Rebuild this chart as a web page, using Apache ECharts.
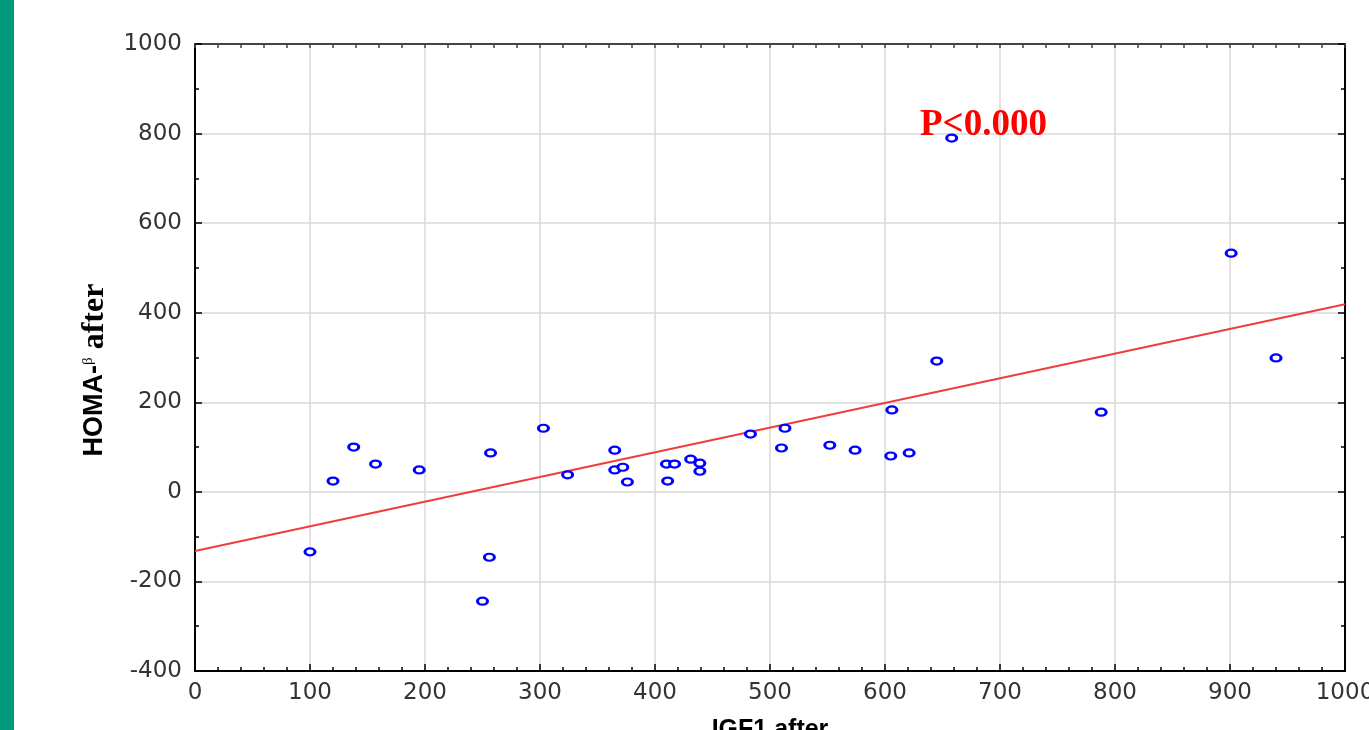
<!DOCTYPE html>
<html>
<head>
<meta charset="utf-8">
<script src="https://cdn.jsdelivr.net/npm/echarts@6/dist/echarts.min.js"></script>
<style>
html,body{margin:0;padding:0;background:#fff;}
#chart{width:1369px;height:730px;}
</style>
</head>
<body>
<div id="chart"></div>
<script>
// IGF1 after (x) vs HOMA-β after (y)
const igf1After = [100,120,138,157,195,250,256,257,303,324,365,365,372,376,411,410,417,431,439,439,483,510,513,552,574,605,606,621,645,658,788,901,940];
const homaAfter = [-134,24,100,62,49,-244,-146,87,142,38,93,49,55,22,24,62,62,73,64,46,129,98,142,104,93,80,183,87,292,790,178,533,299];
// regression line end points
const fitX = [0,1000];
const fitY = [-132,419];
const xTicks = {min:0,max:1000,interval:100};
const yTicks = {min:-400,max:1000,interval:200};
const annotation = 'P<0.000';

const points = igf1After.map((x,i)=>[x,homaAfter[i]]);
const fitLine = fitX.map((x,i)=>[x,fitY[i]]);

const chart = echarts.init(document.getElementById('chart'));
const labelFont = {fontFamily:'DejaVu Sans',fontSize:23,color:'#333',formatter:v=>String(v)};
const gridLine = {show:true,lineStyle:{color:'#d8d8d8',width:1.5}};
chart.setOption({
  animation:false,
  backgroundColor:'#fff',
  grid:{left:195,right:24,top:44,bottom:59,containLabel:false,outerBoundsMode:'none'},
  xAxis:[{
    type:'value',position:'bottom',min:xTicks.min,max:xTicks.max,interval:xTicks.interval,
    axisLine:{show:true,onZero:false,lineStyle:{color:'#000',width:2}},
    axisTick:{show:true,inside:true,length:7,lineStyle:{color:'#000',width:1.5}},
    minorTick:{show:true,splitNumber:5,length:4,lineStyle:{color:'#000',width:1.5}},
    splitLine:gridLine,
    axisLabel:Object.assign({margin:11},labelFont),
    name:'IGF1 after',nameLocation:'middle',nameGap:47,
    nameTextStyle:{fontFamily:'Liberation Sans',fontWeight:'bold',fontSize:25,color:'#000'}
  },{
    type:'value',position:'top',min:xTicks.min,max:xTicks.max,interval:xTicks.interval,
    axisLine:{show:true,onZero:false,lineStyle:{color:'#444',width:2}},
    axisTick:{show:true,inside:true,length:4,lineStyle:{color:'#444',width:1.5}},
    minorTick:{show:true,splitNumber:5,length:4,lineStyle:{color:'#444',width:1.5}},
    splitLine:{show:false},axisLabel:{show:false}
  }],
  yAxis:[{
    type:'value',position:'left',min:yTicks.min,max:yTicks.max,interval:yTicks.interval,
    axisLine:{show:true,onZero:false,lineStyle:{color:'#000',width:2}},
    axisTick:{show:true,inside:true,length:7,lineStyle:{color:'#000',width:1.5}},
    minorTick:{show:true,splitNumber:2,length:4,lineStyle:{color:'#000',width:1.5}},
    splitLine:gridLine,
    axisLabel:Object.assign({margin:13},labelFont)
  },{
    type:'value',position:'right',min:yTicks.min,max:yTicks.max,interval:yTicks.interval,
    axisLine:{show:true,onZero:false,lineStyle:{color:'#000',width:2}},
    axisTick:{show:true,inside:true,length:7,lineStyle:{color:'#000',width:1.5}},
    minorTick:{show:true,splitNumber:2,length:4,lineStyle:{color:'#000',width:1.5}},
    splitLine:{show:false},axisLabel:{show:false}
  }],
  graphic:[
    {type:'rect',left:0,top:0,shape:{width:14,height:730},style:{fill:'#00997a'},z:100},
    {type:'text',x:95,y:370,rotation:Math.PI/2,z:100,
     style:{text:'{a|HOMA-}{b|β}{c| after}',align:'center',verticalAlign:'middle',
       rich:{
         a:{fontFamily:'Liberation Sans',fontWeight:'bold',fontSize:27,fill:'#000',color:'#000'},
         b:{fontFamily:'Liberation Serif',fontSize:15,fill:'#000',color:'#000',padding:[0,0,14,0]},
         c:{fontFamily:'Liberation Serif',fontWeight:'bold',fontSize:32,fill:'#000',color:'#000'}
       }}},
    {type:'text',x:920,y:107,z:100,
     style:{text:annotation,fontFamily:'Liberation Serif',fontWeight:'bold',fontSize:37,fill:'#ff0000',align:'left',verticalAlign:'top'}}
  ],
  series:[{
    type:'line',xAxisIndex:0,yAxisIndex:0,data:fitLine,showSymbol:false,symbol:'none',
    lineStyle:{color:'#f23c3c',width:2},z:2
  },{
    type:'scatter',xAxisIndex:0,yAxisIndex:0,data:points,symbol:'circle',symbolSize:[10,7],
    itemStyle:{color:'#ffffff',borderColor:'#0000ff',borderWidth:2.6,opacity:1},z:3
  }]
});
</script>
</body>
</html>
